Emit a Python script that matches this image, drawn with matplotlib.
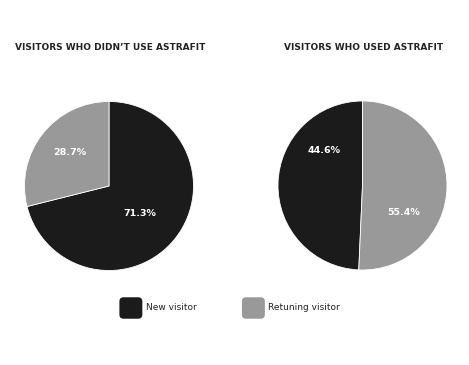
import matplotlib.pyplot as plt
from matplotlib.patches import FancyBboxPatch
from matplotlib.legend_handler import HandlerPatch

titles = ["VISITORS WHO DIDN\u2019T USE ASTRAFIT", "VISITORS WHO USED ASTRAFIT"]
labels = ["New visitor", "Retuning visitor"]
# wedge sizes as drawn in the picture, with the printed percentages
without_astrafit = [71.1, 28.9]
without_labels = ["71.3%", "28.7%"]
with_astrafit = [49.3, 50.7]
with_labels = ["44.6%", "55.4%"]
colors = ["#1b1b1b", "#999999"]

# where the percentage labels sit inside each pie (radius units)
label_pos = [[(0.37, -0.32), (-0.46, 0.40)],
             [(-0.46, 0.41), (0.49, -0.32)]]


class RoundHandler(HandlerPatch):
    def create_artists(self, legend, orig, xdescent, ydescent, width,
                       height, fontsize, trans):
        p = FancyBboxPatch((-xdescent + 1, -ydescent + 1), width - 2,
                           height - 2, boxstyle="round,pad=0,rounding_size=3",
                           facecolor=orig.get_facecolor(), edgecolor="none",
                           transform=trans)
        return [p]


fig = plt.figure(figsize=(4.69, 3.65), dpi=100)
fig.patch.set_facecolor("white")

r_w = 169 / 469
r_h = 169 / 365
axes = [fig.add_axes([(109 - 84.5) / 469, (365 - 186 - 84.5) / 365, r_w, r_h]),
        fig.add_axes([(362.5 - 84.5) / 469, (365 - 185.5 - 84.5) / 365, r_w, r_h])]

wedges_all = []
data = [(without_astrafit, without_labels), (with_astrafit, with_labels)]
for i, (ax, (vals, txts)) in enumerate(zip(axes, data)):
    wedges, _ = ax.pie(vals, colors=colors, startangle=90,
                       counterclock=(i == 1),
                       wedgeprops=dict(edgecolor="white", linewidth=0.6))
    for txt, pos in zip(txts, label_pos[i]):
        ax.text(pos[0], pos[1], txt, color="white", fontsize=6.8,
                fontweight="bold", ha="center", va="center")
    ax.set_xlim(-1.0, 1.0)
    ax.set_ylim(-1.0, 1.0)
    wedges_all.append(wedges)

fig.text(15 / 469, 1 - 48 / 365, titles[0], fontsize=6.45, fontweight="bold",
         color="#222222", va="center", ha="left")
fig.text(284 / 469, 1 - 48 / 365, titles[1], fontsize=6.45, fontweight="bold",
         color="#222222", va="center", ha="left")

leg = fig.legend(wedges_all[0], labels, loc="center left",
                 bbox_to_anchor=(118 / 469, 1 - 308 / 365), ncol=2,
                 frameon=False, fontsize=6.5, handlelength=2.85,
                 handleheight=3.75, handletextpad=0.2, columnspacing=4.9,
                 borderpad=0, borderaxespad=0,
                 handler_map={w: RoundHandler() for w in wedges_all[0]})
for t in leg.get_texts():
    t.set_color("#222222")

fig.savefig("out.png", dpi=100, facecolor="white")
